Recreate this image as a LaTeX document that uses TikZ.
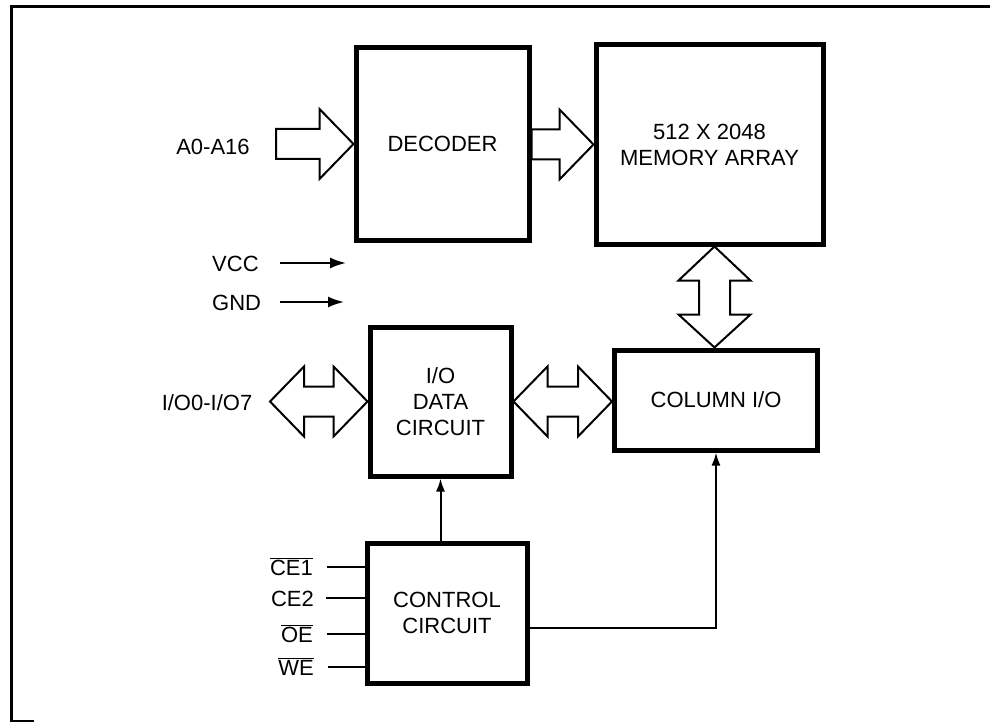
\documentclass[tikz,border=0pt]{standalone}
\usepackage{fontspec}
\setmainfont{Liberation Sans}
\usetikzlibrary{arrows.meta,calc}
\newcommand\txtfont{\fontsize{22}{26}\selectfont}
% right-pointing block arrow: #1 tail, #2 tip
\newcommand\rblock[2]{%
  \draw[blk] let \p1=(#1), \p2=(#2) in
   (\x1,\y2+15pt) -- (\x2-34pt,\y2+15pt) -- (\x2-34pt,\y2+35pt) -- (\p2)
   -- (\x2-34pt,\y2-35pt) -- (\x2-34pt,\y2-15pt) -- (\x1,\y2-15pt) -- cycle;}
% horizontal double block arrow: #1 left tip, #2 right tip
\newcommand\hdblock[2]{%
  \draw[blk] let \p1=(#1), \p2=(#2) in
   (\p1) -- (\x1+34pt,\y1+35pt) -- (\x1+34pt,\y1+15pt) -- (\x2-34pt,\y1+15pt)
   -- (\x2-34pt,\y1+35pt) -- (\x2,\y1) -- (\x2-34pt,\y1-35pt) -- (\x2-34pt,\y1-15pt)
   -- (\x1+34pt,\y1-15pt) -- (\x1+34pt,\y1-35pt) -- cycle;}
% vertical double block arrow: #1 top tip, #2 bottom tip
\newcommand\vdblock[2]{%
  \draw[blk] let \p1=(#1), \p2=(#2) in
   (\p1) -- (\x1+36pt,\y1-34pt) -- (\x1+15.5pt,\y1-34pt) -- (\x1+15.5pt,\y2+33pt)
   -- (\x1+36pt,\y2+33pt) -- (\x1,\y2) -- (\x1-36pt,\y2+33pt) -- (\x1-15.5pt,\y2+33pt)
   -- (\x1-15.5pt,\y1-34pt) -- (\x1-36pt,\y1-34pt) -- cycle;}
\begin{document}
\begin{tikzpicture}[x=1pt,y=-1pt,
  box/.style={draw,line width=5pt,inner sep=0pt,align=center,font=\txtfont},
  blk/.style={draw,line width=2pt,fill=white,line join=miter},
  sig/.style={line width=2pt},
  lbl/.style={font=\txtfont,inner sep=0pt},
  tip/.style={-{Latex[length=16pt,width=11pt]}}]
\useasboundingbox (0,0) rectangle (990,722);
% frame
\draw[line width=3pt] (11,722) -- (11,7) -- (990,7);
\draw[line width=2pt] (11,721) -- (34,721);

% boxes
\node[box,minimum width=173,minimum height=192] (decoder) at (442.5,144) {DECODER};
\node[box,minimum width=227,minimum height=199] (memory) at (709.5,144.5) {512 X 2048\\MEMORY ARRAY};
\node[box,minimum width=141,minimum height=149] (iobox) at (440.5,401.5) {I/O\\DATA\\CIRCUIT};
\node[box,minimum width=203,minimum height=100] (column) at (716,400) {COLUMN I/O};
\node[box,minimum width=160,minimum height=140] (control) at (447,613) {CONTROL\\CIRCUIT};

% block arrows
\node[lbl,anchor=base] (addr) at (213,155) {A0-A16};
\coordinate (atail) at (276,144);
\rblock{atail}{decoder.west}
\rblock{decoder.east}{memory.west}
\node[lbl,anchor=base] (iolbl) at (207,410) {I/O0-I/O7};
\coordinate (ioltip) at (270,401.5);
\hdblock{ioltip}{iobox.west}
\hdblock{iobox.east}{column.west |- iobox.east}
\coordinate (vx) at (714.5,0);
\vdblock{memory.south -| vx}{column.north -| vx}

% power
\node[lbl,anchor=base west] (vcc) at (212,271) {VCC};
\node[lbl,anchor=base west] (gnd) at (212,310) {GND};
\coordinate (vccs) at (280,263);
\coordinate (vcce) at (346,263);
\coordinate (gnds) at (280,302);
\coordinate (gnde) at (344,302);
\draw[sig,tip] (vccs) -- (vcce);
\draw[sig,tip] (gnds) -- (gnde);

% control inputs
\node[lbl,anchor=base east] (ce1) at (313,575) {$\overline{\mbox{CE1}}$};
\node[lbl,anchor=base east] (ce2) at (314,606) {CE2};
\node[lbl,anchor=base east] (oe) at (313,642) {$\overline{\mbox{OE}}$};
\node[lbl,anchor=base east] (we) at (314,675) {$\overline{\mbox{WE}}$};
\coordinate (ce1s) at (327,567);
\coordinate (ce2s) at (326,598);
\coordinate (oes) at (327,634);
\coordinate (wes) at (328,667);
\draw[sig] (ce1s) -- (ce1s -| control.west);
\draw[sig] (ce2s) -- (ce2s -| control.west);
\draw[sig] (oes) -- (oes -| control.west);
\draw[sig] (wes) -- (wes -| control.west);

% control outputs
\draw[sig,-{Latex[length=13pt,width=9pt]}] (control.north -| iobox.south) -- (iobox.south);
\coordinate (cy) at (0,628);
\draw[sig,-{Latex[length=13pt,width=9pt]}] (control.east |- cy) -| (column.south);
\end{tikzpicture}
\end{document}
